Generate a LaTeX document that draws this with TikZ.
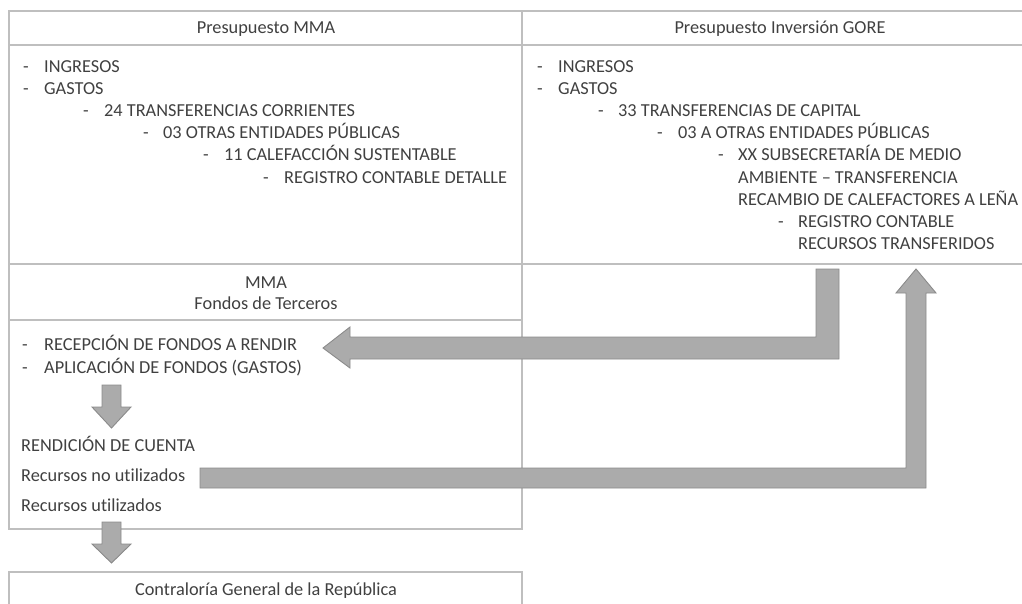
\documentclass[tikz,border=0pt]{standalone}
\usepackage{fontspec}
\setmainfont{Carlito}[Ligatures=NoCommon]
\usetikzlibrary{positioning}

\definecolor{linea}{HTML}{BFBFBF}
\definecolor{texto}{HTML}{404040}
\definecolor{flecha}{HTML}{ABABAB}
\definecolor{borde}{HTML}{8A8A8A}

\begin{document}
\begin{tikzpicture}[
    x=1pt, y=-1pt,
    celda/.style={draw=linea, line width=1.3pt},
    every node/.style={font=\fontsize{18.3}{22}\selectfont, text=texto, inner sep=0pt},
    titulo/.style={anchor=base},
    item/.style={anchor=base west},
    bloque/.style={fill=flecha, draw=borde, line width=0.9pt, line join=miter}
  ]
    \useasboundingbox (0,0) rectangle (1022,604);

    %=== X(columnas) ===%
    \def\xl{9}
    \def\xm{522}
    \def\xr{1022}

    %=== tabla ===%
    \draw[celda] (\xr,11) -- (\xl,11) -- (\xl,529) -- (\xm,529) -- (\xm,11);
    \draw[celda] (\xl,45) -- (\xr,45);
    \draw[celda] (\xl,264) -- (\xr,264);
    \draw[celda] (\xl,320) -- (\xm,320);
    \draw[celda] (\xl,610) -- (\xl,572) -- (\xm,572) -- (\xm,610);

    %=== Presupuesto MMA ===%
    \node[titulo] (mmaTit) at (266,34) {Presupuesto MMA};
    \node[item] (m1d) at (23,73)  {-};
    \node[item] (m1)  at (44,73)  {INGRESOS};
    \node[item] (m2d) at (23,95)  {-};
    \node[item] (m2)  at (44,95)  {GASTOS};
    \node[item] (m3d) at (83,117) {-};
    \node[item] (m3)  at (104,117) {24 TRANSFERENCIAS CORRIENTES};
    \node[item] (m4d) at (143,139) {-};
    \node[item] (m4)  at (163,139) {03 OTRAS ENTIDADES PÚBLICAS};
    \node[item] (m5d) at (203,161) {-};
    \node[item] (m5)  at (224,161) {11 CALEFACCIÓN SUSTENTABLE};
    \node[item] (m6d) at (263,183) {-};
    \node[item] (m6)  at (284,183) {REGISTRO CONTABLE DETALLE};

    %=== Presupuesto Inversión GORE ===%
    \node[titulo] (goreTit) at (780,34) {Presupuesto Inversión GORE};
    \node[item] (g1d) at (537,73)  {-};
    \node[item] (g1)  at (558,73)  {INGRESOS};
    \node[item] (g2d) at (537,95)  {-};
    \node[item] (g2)  at (558,95)  {GASTOS};
    \node[item] (g3d) at (598,117) {-};
    \node[item] (g3)  at (618,117) {33 TRANSFERENCIAS DE CAPITAL};
    \node[item] (g4d) at (657,139) {-};
    \node[item] (g4)  at (678,139) {03 A OTRAS ENTIDADES PÚBLICAS};
    \node[item] (g5d) at (718,161) {-};
    \node[item] (g5)  at (738,161) {XX SUBSECRETARÍA DE MEDIO};
    \node[item] (g6)  at (738,183) {AMBIENTE – TRANSFERENCIA};
    \node[item] (g7)  at (738,205) {RECAMBIO DE CALEFACTORES A LEÑA};
    \node[item] (g8d) at (778,227) {-};
    \node[item] (g8)  at (798,227) {REGISTRO CONTABLE};
    \node[item] (g9)  at (798,249) {RECURSOS TRANSFERIDOS};

    %=== MMA Fondos de Terceros ===%
    \node[titulo] (fTit1) at (266,288) {MMA};
    \node[titulo] (fTit2) at (266,309) {Fondos de Terceros};
    \node[item] (f1d) at (22,350) {-};
    \node[item] (f1)  at (44,350) {RECEPCIÓN DE FONDOS A RENDIR};
    \node[item] (f2d) at (22,373) {-};
    \node[item] (f2)  at (44,373) {APLICACIÓN DE FONDOS (GASTOS)};
    \node[item] (rend) at (21,451) {RENDICIÓN DE CUENTA};
    \node[item] (rnu)  at (21,481) {Recursos no utilizados};
    \node[item] (ru)   at (21,511) {Recursos utilizados};

    % Contraloría
    \node[titulo] (cgr) at (266,595) {Contraloría General de la República};

    %=== flechas de bloque ===%
    % GORE -> recepción de fondos
    \draw[bloque] (839,269) -- (839,359) -- (350,359) -- (350,368) -- (323,348)
      -- (350,327) -- (350,337) -- (816,337) -- (816,269) -- cycle;
    % recursos no utilizados -> GORE
    \draw[bloque] (200,468) -- (906,468) -- (906,293) -- (896,293) -- (916,269)
      -- (936,293) -- (926,293) -- (926,488) -- (200,488) -- cycle;
    % aplicación -> rendición
    \draw[bloque] (102,385) -- (121,385) -- (121,407) -- (131,407) -- (111.5,428)
      -- (92,407) -- (102,407) -- cycle;
    % rendición -> Contraloría
    \draw[bloque] (102,522) -- (121,522) -- (121,544) -- (131,544) -- (111.5,563)
      -- (92,544) -- (102,544) -- cycle;

  \end{tikzpicture}
\end{document}
